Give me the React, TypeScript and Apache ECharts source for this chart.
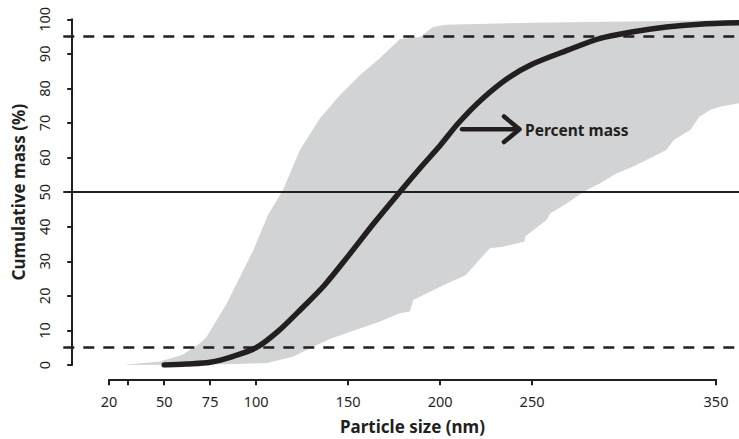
import React, { useEffect, useRef } from "react";
import * as echarts from "echarts";

// Cumulative percent mass curve (particle size nm, %)
const curveX = [50, 62, 75, 88, 100, 112, 125, 137, 150, 164, 178, 190, 200, 210, 223, 237, 250, 269, 287, 305, 323, 341, 362];
const curveY = [0, 0.3, 0.8, 2.6, 5, 9.8, 16.5, 23, 31.5, 41, 50, 57.5, 63.5, 70, 77, 83, 87, 91, 94.5, 96.4, 97.8, 98.6, 99];

// Gray band: upper (left) edge
const bandUpperX = [27.6, 47.7, 60, 69.5, 73.1, 84, 94.9, 98.5, 106.4, 114.6, 123.8, 134.7, 145.6, 156.5, 167.3, 178.2, 189, 196.1, 202.7, 250.5, 362.5];
const bandUpperY = [0, 1, 3, 6.3, 8.2, 17.8, 29.4, 33.3, 43.4, 50.6, 62.2, 71.4, 78.1, 83.9, 88.8, 94.3, 94.9, 97.8, 98.4, 99, 99.8];
// Gray band: lower (right) edge
const bandLowerX = [27.6, 60, 90, 106, 120, 129, 140, 156, 167, 178, 183.6, 185.4, 200, 214, 218, 227, 234, 246, 246.1, 250.6, 258, 260, 269, 278, 287, 296, 305, 316, 323, 327, 336, 341, 347, 352, 362.5];
const bandLowerY = [0, 0.1, 0.3, 0.6, 2.4, 4.8, 7.5, 10.5, 12.5, 15, 15.5, 18.8, 22.6, 26, 28.4, 33.8, 34.2, 35.7, 37.1, 39, 42, 43.9, 46.8, 50.1, 52.6, 55.5, 57.4, 60.3, 62.2, 65.1, 68, 71.8, 73.8, 74.7, 75.7];

// Reference lines
const dashedLevels = [95, 5];
const solidLevels = [50];

// Axis ticks
const xTickValues = [20, 30, 50, 75, 100, 150, 200, 250, 350];
const xLabelValues = [20, 50, 75, 100, 150, 200, 250, 350];
const yTickValues = [0, 10, 20, 30, 40, 50, 60, 70, 80, 90, 100];

const INK = "#231f20";
const FONT = "Noto Sans";

export default function App() {
  const ref = useRef<HTMLDivElement>(null);
  useEffect(() => {
    if (!ref.current) return;
    const chart = echarts.init(ref.current, null, { renderer: "svg" });
    const curve = curveX.map((x, i) => [x, curveY[i]]);
    const upper = bandUpperX.map((x, i) => [x, bandUpperY[i]]);
    const lower = bandLowerX.map((x, i) => [x, bandLowerY[i]]);

    chart.setOption({
      animation: false,
      backgroundColor: "#ffffff",
      grid: [
        { left: 63.3, top: 19.3, width: 675.7, height: 345.7 },
        { left: 109, width: 607, top: 300, height: 79.3 },
      ],
      xAxis: [
        { gridIndex: 0, type: "value", min: -4.85, max: 362.5, show: false },
        {
          gridIndex: 1,
          type: "value",
          min: 20,
          max: 350,
          axisLine: { show: true, lineStyle: { color: INK, width: 2 } },
          axisTick: { show: true, customValues: xTickValues, length: 6, lineStyle: { color: INK, width: 2 } },
          axisLabel: { customValues: xLabelValues, color: INK, fontSize: 14.5, fontFamily: FONT, margin: 14 },
          splitLine: { show: false },
          name: "Particle size (nm)",
          nameLocation: "middle",
          nameGap: 39,
          nameTextStyle: { color: INK, fontSize: 17, fontWeight: "bold", fontFamily: FONT },
        },
      ],
      yAxis: [
        {
          gridIndex: 0,
          type: "value",
          min: 0,
          max: 100,
          interval: 10,
          axisLine: { show: true, lineStyle: { color: INK, width: 2 } },
          axisTick: { show: true, customValues: yTickValues, length: 5, lineStyle: { color: INK, width: 2 } },
          axisLabel: { rotate: 90, color: INK, fontSize: 14.5, fontFamily: FONT, margin: 12 },
          splitLine: { show: false },
          name: "Cumulative mass (%)",
          nameLocation: "middle",
          nameGap: 36,
          nameTextStyle: { color: INK, fontSize: 17, fontWeight: "bold", fontFamily: FONT },
        },
        { gridIndex: 1, type: "value", show: false, min: 0, max: 1 },
      ],
      series: [
        {
          type: "custom",
          xAxisIndex: 0,
          yAxisIndex: 0,
          data: [0],
          silent: true,
          z: 1,
          renderItem: (params: any, api: any) => {
            const pts = upper
              .map((p) => api.coord(p))
              .concat(lower.slice().reverse().map((p) => api.coord(p)));
            return {
              type: "polygon",
              shape: { points: pts },
              style: { fill: "#d1d3d4", stroke: "none" },
            };
          },
        },
        {
          type: "line",
          xAxisIndex: 0,
          yAxisIndex: 0,
          data: curve,
          smooth: 0.3,
          showSymbol: false,
          z: 5,
          lineStyle: { color: INK, width: 5.5, cap: "round" },
          markLine: {
            silent: true,
            symbol: "none",
            label: { show: false },
            data: [
              ...dashedLevels.map((v) => ({ yAxis: v, lineStyle: { color: INK, width: 2.5, type: [11, 9] } })),
              ...solidLevels.map((v) => ({ yAxis: v, lineStyle: { color: INK, width: 2, type: "solid" } })),
            ],
          },
        },
      ],
      graphic: [
        {
          type: "line",
          shape: { x1: 462, y1: 129.3, x2: 518, y2: 129.3 },
          style: { stroke: INK, lineWidth: 4.5, lineCap: "round" },
          z: 10,
        },
        {
          type: "polyline",
          shape: { points: [[504, 116.5], [519.5, 129.3], [504, 142]] },
          style: { stroke: INK, lineWidth: 4.5, lineCap: "round", lineJoin: "round", fill: "none" },
          z: 10,
        },
        {
          type: "text",
          x: 525,
          y: 130,
          style: {
            text: "Percent mass",
            fill: INK,
            font: `bold 15.5px "${FONT}"`,
            verticalAlign: "middle",
            align: "left",
          },
          z: 10,
        },
      ],
    });
    return () => chart.dispose();
  }, []);
  return <div ref={ref} style={{ width: 739, height: 439, position: "absolute", left: 0, top: 0 }} />;
}
